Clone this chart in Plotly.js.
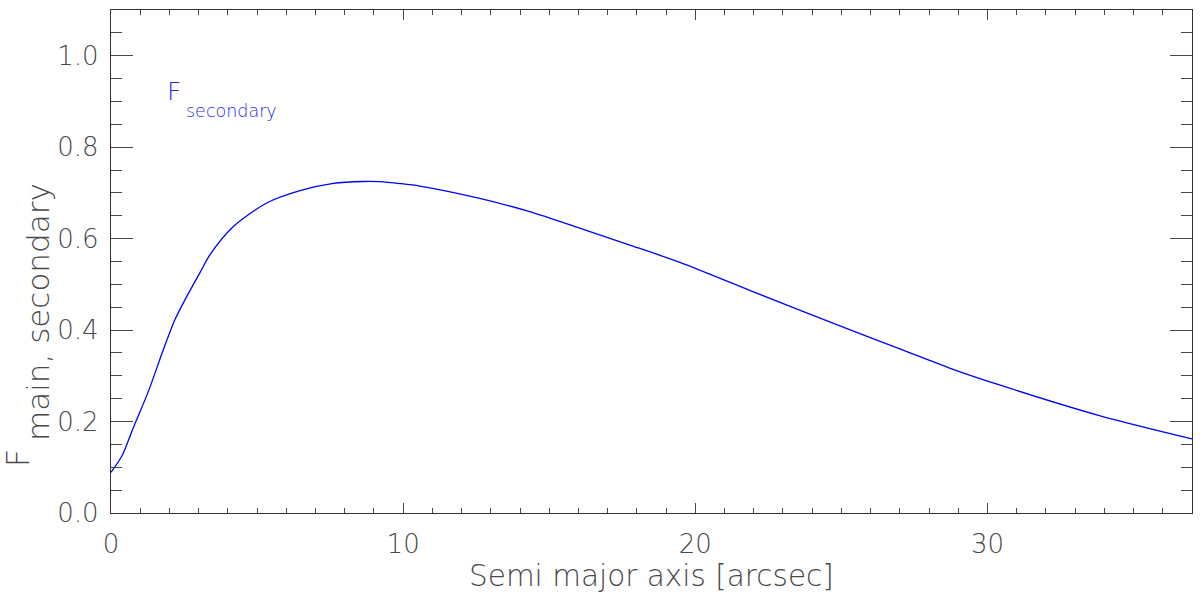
<!DOCTYPE html>
<html>
<head>
<meta charset="utf-8">
<script src="https://cdn.plot.ly/plotly-3.0.1.min.js"></script>
<style>html,body{margin:0;padding:0;background:#fff;}#chart{width:1200px;height:605px;}</style>
</head>
<body>
<div id="chart"></div>
<script>
// Semi major axis [arcsec]
var semiMajorAxis = [0, 0.39, 0.76, 1.28, 1.79, 2.19, 2.53, 3.04, 3.39, 4.18, 5.33, 6.47, 7.61, 8.63, 9.20, 9.89, 10.57, 12.62, 14.33, 16.04, 17.76, 19.47, 21.86, 25.28, 27.0, 28.70, 30.41, 33.83, 37];
// F secondary
var fSecondary = [0.089, 0.127, 0.186, 0.266, 0.357, 0.423, 0.466, 0.525, 0.565, 0.626, 0.678, 0.705, 0.721, 0.725, 0.7245, 0.7205, 0.715, 0.688, 0.659, 0.623, 0.586, 0.548, 0.487, 0.401, 0.359, 0.317, 0.280, 0.213, 0.162];
var xTickVals = [0, 10, 20, 30];
var xTickText = ['0', '10', '20', '30'];
var yTickVals = [0, 0.2, 0.4, 0.6, 0.8, 1.0];
var yTickText = ['0.0', '0.2', '0.4', '0.6', '0.8', '1.0'];

var FONT = 'DejaVu Sans, Liberation Sans, sans-serif';
var GRAY = '#484848';
var BLUE_TXT = '#2b2bdc';
var W = 200;

var trace = {
  x: semiMajorAxis, y: fSecondary, type: 'scatter', mode: 'lines',
  line: {color: '#0000ff', width: 1.3, shape: 'spline', smoothing: 0.8},
  hoverinfo: 'skip', showlegend: false
};

var layout = {
  width: 1200, height: 605,
  margin: {l: 111, r: 8, t: 10, b: 92},
  paper_bgcolor: '#fff', plot_bgcolor: '#fff',
  font: {family: FONT, color: GRAY},
  xaxis: {
    range: [0, 37], tickvals: xTickVals, ticktext: xTickText,
    ticks: 'inside', ticklen: 10, tickwidth: 1, tickcolor: GRAY,
    minor: {dtick: 1, tick0: 0, ticks: 'inside', ticklen: 5, tickwidth: 1, tickcolor: GRAY},
    showline: true, linecolor: '#333', linewidth: 1.3, mirror: 'ticks',
    showgrid: false, zeroline: false,
    tickfont: {family: FONT, size: 26, color: GRAY, weight: W},
    ticklabelstandoff: 7
  },
  yaxis: {
    range: [0, 1.1], tickvals: yTickVals, ticktext: yTickText,
    ticks: 'inside', ticklen: 22, tickwidth: 1, tickcolor: GRAY,
    minor: {dtick: 0.05, tick0: 0, ticks: 'inside', ticklen: 11, tickwidth: 1, tickcolor: GRAY},
    showline: true, linecolor: '#333', linewidth: 1.3, mirror: 'ticks',
    showgrid: false, zeroline: false,
    tickfont: {family: FONT, size: 26, color: GRAY, weight: W},
    ticklabelstandoff: 6
  },
  annotations: [
    {
      text: 'Semi major axis [arcsec]', xref: 'paper', yref: 'paper', x: 0.5, y: -0.1243,
      xanchor: 'center', yanchor: 'middle', showarrow: false,
      font: {family: FONT, size: 29.5, color: GRAY, weight: W}
    },
    {
      text: 'F', xref: 'x', yref: 'y', x: 1.85, y: 0.922,
      xanchor: 'left', yanchor: 'middle', showarrow: false,
      font: {family: FONT, size: 25, color: BLUE_TXT, weight: W}
    },
    {
      text: 'secondary', xref: 'x', yref: 'y', x: 2.5, y: 0.879,
      xanchor: 'left', yanchor: 'middle', showarrow: false,
      font: {family: FONT, size: 17.5, color: BLUE_TXT, weight: W}
    },
    {
      text: 'F', xref: 'paper', yref: 'paper', x: -0.086, y: 0.109, textangle: -90,
      xanchor: 'center', yanchor: 'middle', showarrow: false,
      font: {family: FONT, size: 32, color: GRAY, weight: W}
    },
    {
      text: 'main, secondary', xref: 'paper', yref: 'paper', x: -0.0675, y: 0.3996, textangle: -90,
      xanchor: 'center', yanchor: 'middle', showarrow: false,
      font: {family: FONT, size: 31, color: GRAY, weight: W}
    }
  ]
};

Plotly.newPlot('chart', [trace], layout, {staticPlot: true, displayModeBar: false});
</script>
</body>
</html>
